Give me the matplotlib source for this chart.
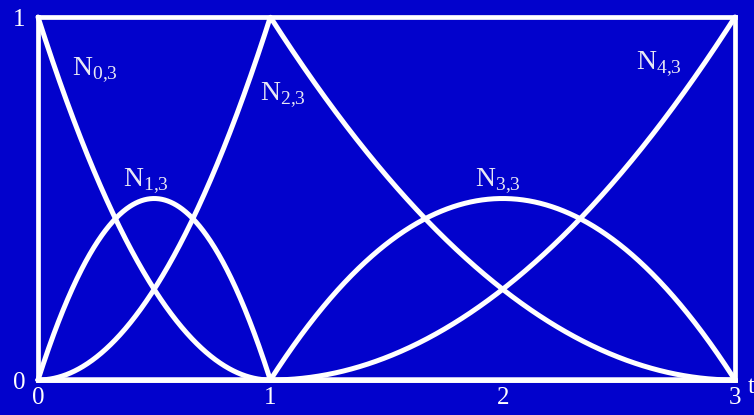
import numpy as np
import matplotlib.pyplot as plt

# knot vector and order of the quadratic B-spline basis
knots = [0, 0, 0, 1, 1, 3, 3, 3]
order = 3
labels = [r'$\mathrm{N}_{0{,}3}$', r'$\mathrm{N}_{1{,}3}$', r'$\mathrm{N}_{2{,}3}$',
          r'$\mathrm{N}_{3{,}3}$', r'$\mathrm{N}_{4{,}3}$']
label_pos = [(0.146, 0.84), (0.366, 0.535), (0.956, 0.77), (1.88, 0.535), (2.574, 0.855)]
xticks = [0, 1, 2, 3]
yticks = [0, 1]

BG = '#0202CC'
FG = 'white'


def basis(i, k, t, kv):
    # Cox-de Boor recursion, last interval closed on the right
    if k == 1:
        lo, hi = kv[i], kv[i + 1]
        out = ((t >= lo) & (t < hi)).astype(float)
        if hi == kv[-1] and lo < hi:
            out[t == hi] = 1.0
        return out
    res = np.zeros_like(t)
    d1 = kv[i + k - 1] - kv[i]
    d2 = kv[i + k] - kv[i + 1]
    if d1 > 0:
        res += (t - kv[i]) / d1 * basis(i, k - 1, t, kv)
    if d2 > 0:
        res += (kv[i + k] - t) / d2 * basis(i + 1, k - 1, t, kv)
    return res


plt.rcParams['mathtext.fontset'] = 'custom'
plt.rcParams['mathtext.rm'] = 'Liberation Serif'

fig = plt.figure(figsize=(7.54, 4.15), dpi=100, facecolor=BG)
ax = fig.add_axes([0.0504, 0.0843, 0.9244, 0.8747])
ax.set_facecolor(BG)

t = np.linspace(knots[0], knots[-1], 1200)
n_basis = len(knots) - order
for i in range(n_basis):
    ax.plot(t, basis(i, order, t, knots), color=FG, lw=3.6, solid_capstyle='round',
            clip_on=False, zorder=3)

for lab, (x, y) in zip(labels, label_pos):
    ax.text(x, y, lab, color='#e8e8f4', fontsize=20, ha='left', va='baseline')

ax.set_xlim(0, 3)
ax.set_ylim(0, 1)
for s in ax.spines.values():
    s.set_color(FG)
    s.set_linewidth(3.4)
ax.set_xticks(xticks)
ax.set_yticks(yticks)
ax.tick_params(axis='x', length=0, colors=FG, labelsize=18, pad=5)
ax.tick_params(axis='y', length=0, colors=FG, labelsize=18, pad=9)
for lab in ax.get_xticklabels() + ax.get_yticklabels():
    lab.set_family('Liberation Serif')
ax.text(3.055, -0.02, 't', color=FG, fontsize=18, family='Liberation Serif',
        ha='left', va='center', clip_on=False)

fig.savefig('out.png', dpi=100, facecolor=BG)
